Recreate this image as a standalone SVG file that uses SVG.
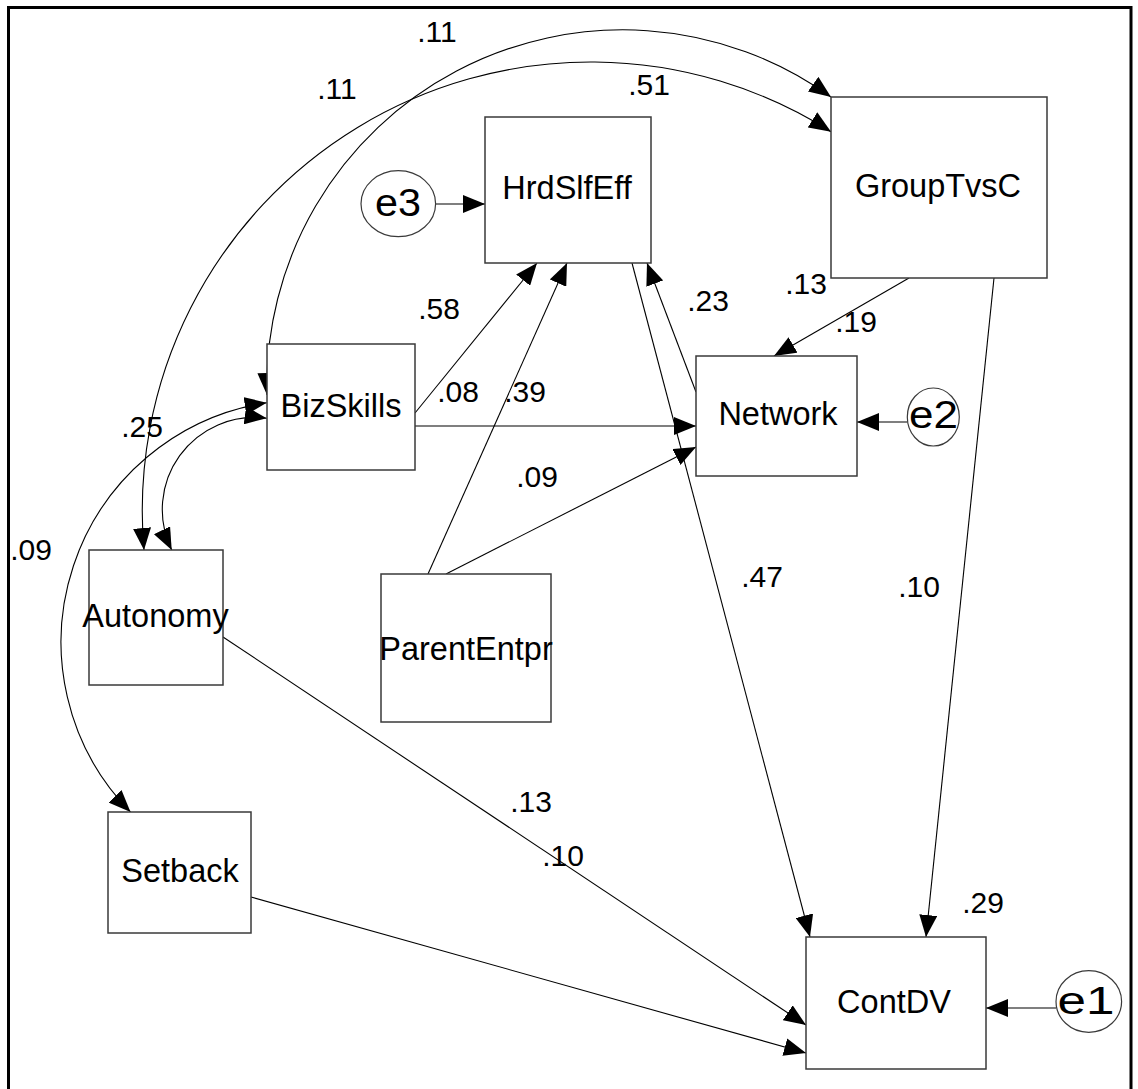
<svg xmlns="http://www.w3.org/2000/svg" width="1138" height="1089" viewBox="0 0 1138 1089">
  <style>
    .box { fill: #ffffff; stroke: #3a3a3a; stroke-width: 1.5; }
    .err { fill: #ffffff; stroke: #3a3a3a; stroke-width: 1.2; }
    .name { font-family: "Liberation Sans", Arial, sans-serif; font-size: 32.5px; fill: #000; text-anchor: middle; }
    .ename { font-family: "Liberation Sans", Arial, sans-serif; font-size: 38px; fill: #000; text-anchor: middle; }
    .val { font-family: "Liberation Sans", Arial, sans-serif; font-size: 30px; fill: #000; text-anchor: middle; }
    .path { fill: none; stroke: #000; stroke-width: 1.1; marker-end: url(#head); }
    .cov { fill: none; stroke: #000; stroke-width: 1.1; marker-start: url(#head); marker-end: url(#head); }
  </style>
  <defs>
    <marker id="head" markerUnits="userSpaceOnUse" viewBox="0 0 22 18" markerWidth="22" markerHeight="18" refX="22" refY="9" orient="auto-start-reverse">
      <path d="M0,0 L22,9 L0,18 z" fill="#000"/>
    </marker>
  </defs>

  <rect width="1138" height="1089" fill="#ffffff"/>
  <!-- outer frame -->
  <rect x="8.5" y="7.5" width="1122.5" height="1100" fill="none" stroke="#000" stroke-width="3"/>

  <!-- connectors: regression paths and covariances -->
  <g id="connectors">
    <path class="path" d="M436 204 L485 204"/>
    <path class="path" d="M907 422 L857 422"/>
    <path class="path" d="M1056 1008 L986 1008"/>
    <path class="path" d="M415 413 L537 263"/>
    <path class="path" d="M428 574 L567 263"/>
    <path class="path" d="M415 426 L696 426"/>
    <path class="path" d="M446 574 L696 447"/>
    <path class="path" d="M696 392 L647 263"/>
    <path class="path" d="M632 263 L810 937"/>
    <path class="path" d="M909 278 L774 356"/>
    <path class="path" d="M994 278 L926 937"/>
    <path class="path" d="M223 637 L806 1025"/>
    <path class="path" d="M251 897 L806 1053"/>

    <path class="cov" d="M267 395 A356 356 0 0 1 831 97"/>
    <path class="cov" d="M144 550 A448.6 448.6 0 0 1 831 131.7"/>
    <path class="cov" d="M266.7 418.3 A92 92 0 0 0 171.7 550"/>
    <path class="cov" d="M266.7 402.7 A242.3 242.3 0 0 0 130.5 812"/>
  </g>

  <!-- observed variables -->
  <g id="HrdSlfEff">
    <rect class="box" x="485" y="117" width="166" height="146"/>
    <text class="name" x="567" y="199">HrdSlfEff</text>
  </g>
  <g id="GroupTvsC">
    <rect class="box" x="831" y="97" width="216" height="181"/>
    <text class="name" x="938" y="197">GroupTvsC</text>
  </g>
  <g id="BizSkills">
    <rect class="box" x="267" y="344" width="148" height="126"/>
    <text class="name" x="341" y="417">BizSkills</text>
  </g>
  <g id="Network">
    <rect class="box" x="696" y="356" width="161" height="120"/>
    <text class="name" x="778" y="425">Network</text>
  </g>
  <g id="Autonomy">
    <rect class="box" x="89" y="550" width="134" height="135"/>
    <text class="name" x="155.5" y="627">Autonomy</text>
  </g>
  <g id="ParentEntpr">
    <rect class="box" x="381" y="574" width="170" height="148"/>
    <text class="name" x="466" y="660">ParentEntpr</text>
  </g>
  <g id="Setback">
    <rect class="box" x="108" y="812" width="143" height="121"/>
    <text class="name" x="180" y="882">Setback</text>
  </g>
  <g id="ContDV">
    <rect class="box" x="806" y="937" width="180" height="132"/>
    <text class="name" x="894" y="1013">ContDV</text>
  </g>

  <!-- error terms -->
  <g id="e3">
    <ellipse class="err" cx="398.3" cy="203.7" rx="37.3" ry="33"/>
    <text class="ename" x="398" y="216" textLength="46" lengthAdjust="spacingAndGlyphs">e3</text>
  </g>
  <g id="e2">
    <ellipse class="err" cx="933.3" cy="417" rx="26" ry="29"/>
    <text class="ename" x="933.5" y="428" textLength="49" lengthAdjust="spacingAndGlyphs">e2</text>
  </g>
  <g id="e1">
    <ellipse class="err" cx="1088.8" cy="1001.5" rx="32.8" ry="30.8"/>
    <text class="ename" x="1086" y="1014" textLength="57" lengthAdjust="spacingAndGlyphs">e1</text>
  </g>

  <!-- estimates -->
  <g id="estimates">
    <text class="val" x="437" y="42">.11</text>
    <text class="val" x="337" y="99">.11</text>
    <text class="val" x="649" y="95">.51</text>
    <text class="val" x="439" y="319">.58</text>
    <text class="val" x="458" y="402">.08</text>
    <text class="val" x="525" y="402">.39</text>
    <text class="val" x="537" y="487">.09</text>
    <text class="val" x="708" y="311">.23</text>
    <text class="val" x="806" y="294">.13</text>
    <text class="val" x="856" y="332">.19</text>
    <text class="val" x="142" y="437">.25</text>
    <text class="val" x="31" y="560">.09</text>
    <text class="val" x="762" y="587">.47</text>
    <text class="val" x="919" y="597">.10</text>
    <text class="val" x="531" y="812">.13</text>
    <text class="val" x="563" y="866">.10</text>
    <text class="val" x="983" y="913">.29</text>
  </g>
</svg>
